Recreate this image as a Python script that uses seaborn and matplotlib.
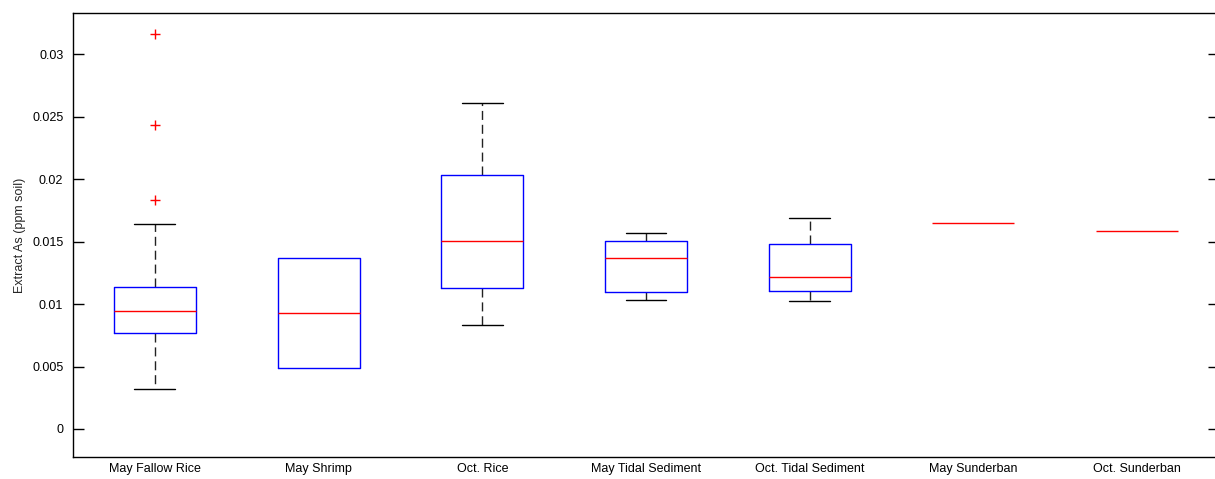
import matplotlib
matplotlib.use("Agg")
import matplotlib.pyplot as plt
import seaborn as sns

# ---- data ----
categories = ["May Fallow Rice", "May Shrimp", "Oct. Rice", "May Tidal Sediment",
              "Oct. Tidal Sediment", "May Sunderban", "Oct. Sunderban"]
whisker_low = [0.0032, 0.00486, 0.00833, 0.01033, 0.01022, 0.01647, 0.01585]
q1_values = [0.00771, 0.00486, 0.01126, 0.01099, 0.01105, 0.01647, 0.01585]
medians = [0.00945, 0.00926, 0.01505, 0.01369, 0.01219, 0.01647, 0.01585]
q3_values = [0.01134, 0.01367, 0.02036, 0.01508, 0.01481, 0.01647, 0.01585]
whisker_high = [0.01639, 0.01367, 0.02608, 0.01569, 0.01689, 0.01647, 0.01585]
outliers = [[0.01833, 0.02434, 0.03168], [], [], [], [], [], []]
ytick_values = [0, 0.005, 0.01, 0.015, 0.02, 0.025, 0.03]
ytick_labels = ["0", "0.005", "0.01", "0.015", "0.02", "0.025", "0.03"]

sns.set_theme(style="ticks")
plt.rcParams["font.family"] = ["Liberation Sans", "DejaVu Sans"]

fig = plt.figure(figsize=(12.15, 4.79), dpi=100)
ax = fig.add_axes([73 / 1215, (479 - 457.3) / 479, (1219 - 73) / 1215, (457.3 - 13.3) / 479])

stats = []
for i, name in enumerate(categories):
    stats.append(dict(label=name, whislo=whisker_low[i], q1=q1_values[i], med=medians[i],
                      q3=q3_values[i], whishi=whisker_high[i], fliers=outliers[i]))

positions = list(range(1, len(categories) + 1))
parts = ax.bxp(stats, positions=positions, widths=0.5, showfliers=True,
               boxprops=dict(color="#0000ff", linewidth=1.0, zorder=3),
               medianprops=dict(color="#ff0000", linewidth=1.0, zorder=4),
               whiskerprops=dict(color="#222222", linewidth=1.0, linestyle=(0, (6.5, 3.5)), zorder=2),
               capprops=dict(color="black", linewidth=1.0, zorder=2),
               capwidths=0.25,
               flierprops=dict(marker="+", markeredgecolor="#ff0000", markersize=7,
                               linestyle="none", markeredgewidth=1.0, zorder=4))

# groups whose box collapsed to one value show only the red median line
for i in range(len(categories)):
    if q1_values[i] == q3_values[i]:
        parts["boxes"][i].set_visible(False)
    if whisker_low[i] == q1_values[i]:
        parts["caps"][2 * i].set_visible(False)
        parts["whiskers"][2 * i].set_visible(False)
    if whisker_high[i] == q3_values[i]:
        parts["caps"][2 * i + 1].set_visible(False)
        parts["whiskers"][2 * i + 1].set_visible(False)

ax.set_xlim(0.5, 7.5)
ax.set_ylim(-0.00227, 0.0333)
ax.set_yticks(ytick_values)
ax.set_yticklabels(ytick_labels)
ax.set_xticks(positions)
ax.set_xticklabels(categories)
ax.tick_params(axis="x", length=0, pad=4, labelsize=9, colors="black")
ax.tick_params(axis="y", direction="in", length=8, width=1, left=True, right=True,
               labelsize=9, pad=7, colors="black")
for s in ax.spines.values():
    s.set_visible(True)
    s.set_color("black")
    s.set_linewidth(1.0)
ax.set_ylabel("Extract As (ppm soil)", fontsize=9, labelpad=4)
ax.grid(False)

fig.savefig("out.png", dpi=100)
